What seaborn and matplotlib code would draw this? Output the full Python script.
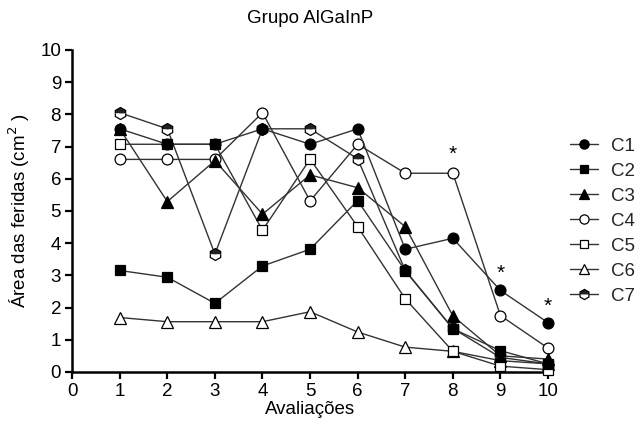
import matplotlib
matplotlib.use("Agg")
import matplotlib.pyplot as plt
import seaborn as sns
import pandas as pd

sns.set_theme(style="ticks")
plt.rcParams['font.family'] = ['Liberation Sans', 'DejaVu Sans']

avaliacoes = [1, 2, 3, 4, 5, 6, 7, 8, 9, 10]
C1 = [7.55, 7.07, 7.07, 7.55, 7.07, 7.55, 3.81, 4.15, 2.53, 1.53]
C2 = [3.15, 2.94, 2.13, 3.29, 3.81, 5.32, 3.14, 1.34, 0.66, 0.25]
C3 = [7.55, 5.29, 6.56, 4.90, 6.12, 5.72, 4.51, 1.74, 0.50, 0.40]
C4 = [6.60, 6.60, 6.60, 8.05, 5.31, 7.07, 6.17, 6.17, 1.75, 0.74]
C5 = [7.07, 7.07, 7.07, 4.40, 6.61, 4.51, 2.27, 0.64, 0.18, 0.07]
C6 = [1.69, 1.56, 1.56, 1.56, 1.87, 1.24, 0.77, 0.64, 0.35, 0.25]
C7 = [8.05, 7.55, 3.66, 7.55, 7.55, 6.62, 3.15, 1.35, 0.45, 0.25]
series_names = ["C1", "C2", "C3", "C4", "C5", "C6", "C7"]
series_values = [C1, C2, C3, C4, C5, C6, C7]
asterisk_x = [8, 9, 10]
asterisk_y = [6.75, 3.05, 2.05]

styles = {
    "C1": dict(marker="o", mfc="black", fillstyle="full", ms=7.8),
    "C2": dict(marker="s", mfc="black", fillstyle="full", ms=7.5),
    "C3": dict(marker="^", mfc="black", fillstyle="full", ms=8.0),
    "C4": dict(marker="o", mfc="white", fillstyle="full", ms=7.8),
    "C5": dict(marker="s", mfc="white", fillstyle="full", ms=7.5),
    "C6": dict(marker="^", mfc="white", fillstyle="full", ms=8.0),
    "C7": dict(marker="h", mfc="#222222", fillstyle="top", mfcalt="white", ms=8.6),
}

fig = plt.figure(figsize=(6.44, 4.34), dpi=100)
ax = fig.add_axes([0.112, 0.143, 0.739, 0.742])

for i in reversed(range(len(series_names))):
    name = series_names[i]
    df = pd.DataFrame({"x": avaliacoes, "y": series_values[i]})
    st = styles[name]
    extra = {"markerfacecoloralt": st["mfcalt"]} if "mfcalt" in st else {}
    sns.lineplot(data=df, x="x", y="y", ax=ax, color="#333333", lw=1.0,
                 marker=st["marker"], markersize=st["ms"],
                 markerfacecolor=st["mfc"], markeredgecolor="black",
                 markeredgewidth=0.9, fillstyle=st["fillstyle"],
                 zorder=10 + (7 - i), clip_on=False, label=name, **extra)

for x, y in zip(asterisk_x, asterisk_y):
    ax.text(x, y, "*", ha="center", va="center", fontsize=15, color="black")

ax.set_xlim(0, 10)
ax.set_ylim(0, 10)
ax.set_xticks(range(0, 11))
ax.set_yticks(range(0, 11))
ax.tick_params(axis="both", labelsize=13.5, width=1.6, length=5, direction="out",
               color="black", labelcolor="black", pad=3)
for s in ["top", "right"]:
    ax.spines[s].set_visible(False)
for s in ["left", "bottom"]:
    ax.spines[s].set_linewidth(1.8)
    ax.spines[s].set_color("black")

ax.set_xlabel("Avaliações", fontsize=13.5, color="black", labelpad=1)
ax.set_ylabel("Área das feridas (cm$^2$ )", fontsize=13.5, color="black", labelpad=6)
fig.text(0.481, 0.958, "Grupo AlGaInP", ha="center", va="center", fontsize=13.5, color="black")

h, l = ax.get_legend_handles_labels()
order = [l.index(n) for n in series_names]
ax.legend([h[k] for k in order], [l[k] for k in order],
          loc="upper left", bbox_to_anchor=(1.01, 0.78), frameon=False,
          fontsize=13.5, handlelength=1.5, handletextpad=0.7, labelspacing=0.42,
          markerscale=0.85)

fig.savefig("out.png", dpi=100)
